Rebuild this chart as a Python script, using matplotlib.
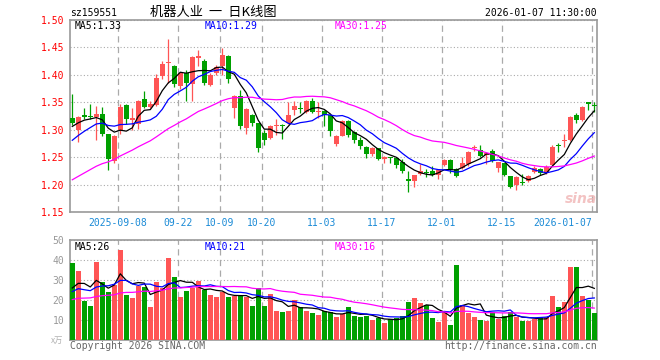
import numpy as np
import pandas as pd
import matplotlib
matplotlib.use("Agg")
import matplotlib.pyplot as plt

# ---------------- data ----------------
open_ = [1.322, 1.300, 1.326, 1.325, 1.323, 1.328, 1.292, 1.243, 1.299, 1.345,
         1.318, 1.310, 1.356, 1.342, 1.345, 1.398, 1.421, 1.417, 1.379, 1.404,
         1.383, 1.431, 1.426, 1.382, 1.403, 1.417, 1.434, 1.339, 1.361, 1.303,
         1.327, 1.312, 1.294, 1.285, 1.306, 1.309, 1.312, 1.336, 1.340, 1.333,
         1.353, 1.332, 1.334, 1.326, 1.274, 1.289, 1.316, 1.296, 1.281, 1.269,
         1.256, 1.266, 1.247, 1.250, 1.249, 1.242, 1.210, 1.207, 1.220, 1.223,
         1.225, 1.217, 1.236, 1.245, 1.228, 1.231, 1.238, 1.266, 1.263, 1.253,
         1.262, 1.231, 1.239, 1.215, 1.199, 1.204, 1.207, 1.223, 1.228, 1.222,
         1.236, 1.272, 1.280, 1.281, 1.327, 1.317, 1.350, 1.345]
high = [1.365, 1.325, 1.339, 1.346, 1.344, 1.342, 1.293, 1.290, 1.347, 1.346,
        1.339, 1.355, 1.370, 1.352, 1.401, 1.426, 1.466, 1.418, 1.405, 1.408,
        1.434, 1.445, 1.428, 1.404, 1.418, 1.449, 1.436, 1.364, 1.373, 1.340,
        1.329, 1.313, 1.300, 1.309, 1.319, 1.310, 1.350, 1.353, 1.350, 1.355,
        1.358, 1.350, 1.336, 1.327, 1.290, 1.318, 1.317, 1.298, 1.287, 1.270,
        1.269, 1.267, 1.252, 1.251, 1.250, 1.246, 1.224, 1.218, 1.237, 1.228,
        1.234, 1.228, 1.247, 1.246, 1.231, 1.250, 1.262, 1.272, 1.272, 1.260,
        1.264, 1.242, 1.240, 1.216, 1.215, 1.220, 1.218, 1.234, 1.230, 1.236,
        1.272, 1.276, 1.293, 1.325, 1.330, 1.344, 1.351, 1.350]
low = [1.308, 1.277, 1.319, 1.320, 1.282, 1.288, 1.227, 1.240, 1.292, 1.311,
       1.300, 1.302, 1.340, 1.340, 1.343, 1.392, 1.386, 1.377, 1.375, 1.353,
       1.353, 1.417, 1.381, 1.379, 1.400, 1.400, 1.385, 1.321, 1.301, 1.292,
       1.306, 1.260, 1.272, 1.283, 1.291, 1.283, 1.310, 1.327, 1.330, 1.330,
       1.330, 1.321, 1.307, 1.288, 1.270, 1.288, 1.286, 1.275, 1.264, 1.248,
       1.252, 1.245, 1.240, 1.240, 1.230, 1.222, 1.187, 1.196, 1.218, 1.213,
       1.216, 1.210, 1.234, 1.222, 1.214, 1.229, 1.234, 1.262, 1.250, 1.238,
       1.241, 1.223, 1.216, 1.193, 1.190, 1.199, 1.205, 1.221, 1.218, 1.220,
       1.234, 1.260, 1.268, 1.279, 1.313, 1.315, 1.336, 1.333]
close = [1.313, 1.323, 1.324, 1.323, 1.328, 1.292, 1.247, 1.288, 1.341, 1.319,
         1.322, 1.353, 1.342, 1.347, 1.394, 1.420, 1.424, 1.383, 1.403, 1.385,
         1.433, 1.434, 1.385, 1.400, 1.415, 1.437, 1.392, 1.362, 1.307, 1.338,
         1.312, 1.266, 1.282, 1.307, 1.308, 1.307, 1.327, 1.344, 1.338, 1.353,
         1.333, 1.334, 1.327, 1.297, 1.289, 1.316, 1.290, 1.281, 1.270, 1.256,
         1.267, 1.247, 1.251, 1.248, 1.236, 1.224, 1.207, 1.217, 1.225, 1.221,
         1.217, 1.227, 1.245, 1.227, 1.216, 1.240, 1.259, 1.269, 1.252, 1.258,
         1.243, 1.241, 1.218, 1.196, 1.213, 1.202, 1.215, 1.231, 1.222, 1.232,
         1.268, 1.270, 1.282, 1.323, 1.318, 1.342, 1.346, 1.343]
volume = [38.3, 34.7, 19.7, 17.2, 39.2, 29.2, 24.2, 27.7, 45.2, 22.7,
          20.8, 27.2, 26.3, 16.7, 28.8, 26.0, 40.8, 31.7, 21.3, 24.7,
          25.8, 29.3, 25.0, 22.7, 21.3, 24.2, 21.3, 22.0, 22.2, 21.3,
          17.2, 26.2, 17.2, 23.2, 14.7, 14.2, 14.7, 20.2, 16.7, 14.7,
          13.3, 12.7, 14.3, 13.8, 11.3, 13.0, 16.3, 12.2, 11.3, 11.8,
          10.2, 11.0, 8.3, 10.5, 10.8, 12.2, 18.8, 20.8, 18.3, 17.7,
          10.8, 8.8, 14.2, 7.7, 37.7, 17.7, 13.3, 11.3, 10.2, 9.7,
          13.8, 10.5, 12.2, 13.8, 11.3, 9.3, 9.7, 10.5, 11.7, 11.7,
          22.2, 16.7, 18.8, 36.7, 36.7, 22.2, 20.2, 13.3]
# sessions before the visible window (estimated so the MA lines start where they do)
prior_close = [1.135, 1.140, 1.138, 1.145, 1.150, 1.148, 1.155, 1.152, 1.160, 1.162,
               1.170, 1.178, 1.185, 1.180, 1.192, 1.200, 1.205, 1.212, 1.220, 1.228,
               1.235, 1.248, 1.255, 1.262, 1.277, 1.290, 1.300, 1.312, 1.315]
prior_volume = [15, 17, 14, 19, 16, 18, 21, 17, 15, 20,
                19, 16, 22, 18, 17, 21, 19, 20, 18, 22,
                20, 25, 22, 21, 24, 23, 20, 26, 22.7]
date_ticks = {8: "2025-09-08", 18: "09-22", 25: "10-09", 32: "10-20", 42: "11-03",
              52: "11-17", 62: "12-01", 72: "12-15", 87: "2026-01-07"}
price_ticks = [1.15, 1.20, 1.25, 1.30, 1.35, 1.40, 1.45, 1.50]
vol_ticks = [10, 20, 30, 40, 50]
symbol = "sz159551"
title = "机器人业  一  日K线图"
stamp = "2026-01-07 11:30:00"

# ---------------- styling ----------------
RED, GREEN = "#ff5555", "#00a000"
MA_COLORS = {5: "#000000", 10: "#0000ff", 30: "#ff00ff"}
GRID = "#aaaaaa"
MONO = "DejaVu Sans Mono"
CJK = ["Noto Sans CJK SC", "DejaVu Sans"]
FS = 7

W, H = 660, 360
fig = plt.figure(figsize=(6.6, 3.6), dpi=100)
fig.patch.set_facecolor("white")


def fx(px):
    return px / W


def fy(py):
    return 1 - py / H


L, R = 70, 597
ax = fig.add_axes([fx(L), fy(212), (R - L) / W, (212 - 20) / H])
axv = fig.add_axes([fx(L), fy(340), (R - L) / W, (340 - 240) / H])

n = len(close)
x = np.arange(n)
o = np.array(open_)
c = np.array(close)
hi = np.array(high)
lo = np.array(low)
v = np.array(volume)
up = c >= o
cols = np.where(up, RED, GREEN)

# candles
ax.vlines(x, lo, hi, colors=cols, linewidths=0.9, zorder=3)
body_bottom = np.minimum(o, c)
body_h = np.maximum(np.abs(c - o), 0.0018)
ax.bar(x, body_h, bottom=body_bottom, width=0.78, color=cols, linewidth=0, zorder=4)

# price MAs
all_c = pd.Series(np.concatenate([prior_close, close]))
k = len(prior_close)
ma_last = {}
for p in (5, 10, 30):
    m = all_c.rolling(p).mean().values[k:]
    ma_last[p] = m[-1]
    ax.plot(x, m, color=MA_COLORS[p], lw=0.9, zorder=5)

# volume bars + MAs
axv.bar(x, v, width=0.78, color=cols, linewidth=0, zorder=3)
all_v = pd.Series(np.concatenate([prior_volume, volume]))
kv = len(prior_volume)
vma_last = {}
for p in (5, 10, 30):
    m = all_v.rolling(p).mean().values[kv:]
    vma_last[p] = m[-1]
    axv.plot(x, m, color=MA_COLORS[p], lw=0.9, zorder=5)

# axes cosmetics
tick_pos = [i - 0.38 for i in date_ticks.keys()]
for a in (ax, axv):
    a.set_xlim(-0.38, 87.45)
    a.set_xticks(tick_pos)
    a.xaxis.grid(True, color=GRID, ls=(0, (5, 3.5)), lw=0.9)
    a.yaxis.grid(True, color=GRID, ls=(0, (1, 2)), lw=0.8)
    a.set_axisbelow(True)
    for s in a.spines.values():
        s.set_color("#999999")
        s.set_linewidth(1.2)
    a.tick_params(length=0)

ax.set_ylim(1.15, 1.50)
ax.set_yticks(price_ticks)
ax.set_yticklabels([f"{t:.2f}" for t in price_ticks], color="red",
                   fontfamily=MONO, fontsize=FS)
ax.tick_params(axis="y", pad=4)
ax.set_xticklabels(list(date_ticks.values()), color="#1a8ad6",
                   fontfamily=MONO, fontsize=FS)
ax.tick_params(axis="x", pad=4)
ax.get_xticklabels()[-1].set_ha("right")

axv.set_ylim(0, 50)
axv.set_yticks(vol_ticks)
axv.set_yticklabels([str(t) for t in vol_ticks], color="#999999",
                    fontfamily=MONO, fontsize=FS)
axv.tick_params(axis="y", pad=4)
axv.set_xticklabels([])

# header texts
fig.text(fx(70), fy(13), symbol, fontfamily=MONO, fontsize=FS, ha="left", va="center")
fig.text(fx(213), fy(12.5), title, family=CJK, fontsize=9.5, ha="center", va="center")
fig.text(fx(597), fy(13), stamp, fontfamily=MONO, fontsize=FS, ha="right", va="center")

# MA legends
lx = {5: 75, 10: 205, 30: 335}
for p in (5, 10, 30):
    fig.text(fx(lx[p]), fy(26), f"MA{p}:{ma_last[p]:.2f}", color=MA_COLORS[p],
             fontfamily=MONO, fontsize=FS, ha="left", va="center")
    fig.text(fx(lx[p]), fy(246.5), f"MA{p}:{vma_last[p]:.0f}", color=MA_COLORS[p],
             fontfamily=MONO, fontsize=FS, ha="left", va="center")

# footer / watermark
fig.text(fx(63), fy(340), "x万", family=CJK, fontsize=6, color="#b0b0b0",
         ha="right", va="center")
fig.text(fx(70), fy(346), "Copyright 2026 SINA.COM", color="#666666",
         fontfamily=MONO, fontsize=FS, ha="left", va="center")
fig.text(fx(597), fy(346), "http://finance.sina.com.cn", color="#666666",
         fontfamily=MONO, fontsize=FS, ha="right", va="center")
fig.text(fx(581), fy(199), "sina", color="#f0b4b4", fontsize=10, fontweight="bold",
         style="italic", ha="center", va="center", alpha=0.8)

fig.savefig("out.png", dpi=100)
